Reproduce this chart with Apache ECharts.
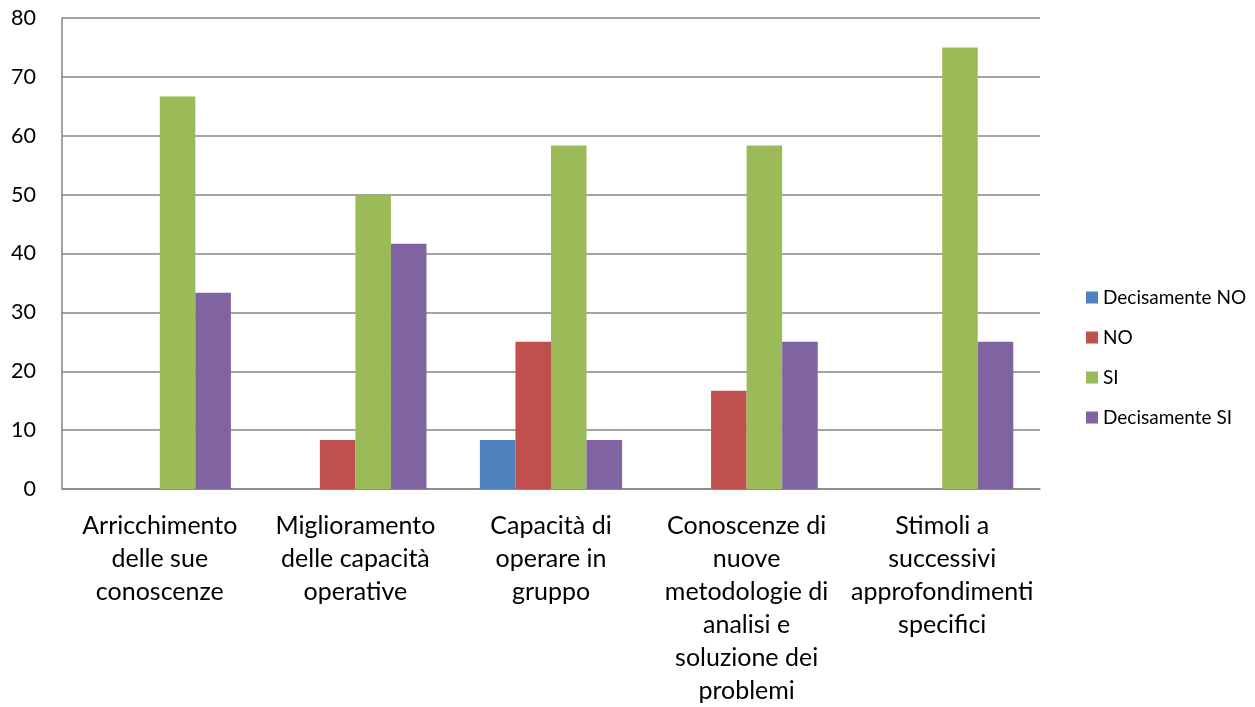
<!DOCTYPE html>
<html><head><meta charset="utf-8">
<script src="https://cdn.jsdelivr.net/npm/echarts@6/dist/echarts.min.js"></script>
<style>html,body{margin:0;padding:0;background:#fff}#c{width:1255px;height:707px}</style>
</head><body><div id="c"></div>
<script>
const categories = [
  "Arricchimento\ndelle sue\nconoscenze",
  "Miglioramento\ndelle capacità\noperative",
  "Capacità di\noperare in\ngruppo",
  "Conoscenze di\nnuove\nmetodologie di\nanalisi e\nsoluzione dei\nproblemi",
  "Stimoli a\nsuccessivi\napprofondimenti\nspecifici"
];
const seriesNames = ["Decisamente NO", "NO", "SI", "Decisamente SI"];
const decisamenteNO = [0, 0, 8.33, 0, 0];
const no = [0, 8.33, 25, 16.67, 0];
const si = [66.67, 50, 58.33, 58.33, 75];
const decisamenteSI = [33.33, 41.67, 8.33, 25, 25];
const yTicks = {min: 0, max: 80, interval: 10};
const colors = ["#4F81BD", "#C0504D", "#9BBB59", "#8064A2"];

const font = "Lato, 'Open Sans', sans-serif";
const chart = echarts.init(document.getElementById('c'), null, {renderer: 'canvas'});
const data = [decisamenteNO, no, si, decisamenteSI];
chart.setOption({
  animation: false,
  color: colors,
  grid: {left: 62, right: 215, top: 18, bottom: 213, containLabel: false},
  legend: {
    orient: 'vertical', left: 1081, top: 283, itemWidth: 12, itemHeight: 12, itemGap: 21,
    icon: 'rect',
    textStyle: {fontFamily: font, fontSize: 19, color: '#000'},
    data: seriesNames
  },
  xAxis: {
    type: 'category', data: categories,
    axisLine: {lineStyle: {color: '#868686', width: 1.5}},
    axisTick: {show: false},
    axisLabel: {interval: 0, fontFamily: font, fontSize: 25, color: '#000', lineHeight: 33, margin: 20}
  },
  yAxis: {
    type: 'value', min: yTicks.min, max: yTicks.max, interval: yTicks.interval,
    axisLine: {show: true, lineStyle: {color: '#868686', width: 1.5}},
    axisTick: {show: false},
    splitLine: {lineStyle: {color: '#868686', width: 1.5}},
    axisLabel: {fontFamily: font, fontSize: 21.5, color: '#000', margin: 26}
  },
  series: seriesNames.map((n, i) => ({
    name: n, type: 'bar', data: data[i], barGap: '0%', barCategoryGap: '27.3%'
  }))
});
</script></body></html>
